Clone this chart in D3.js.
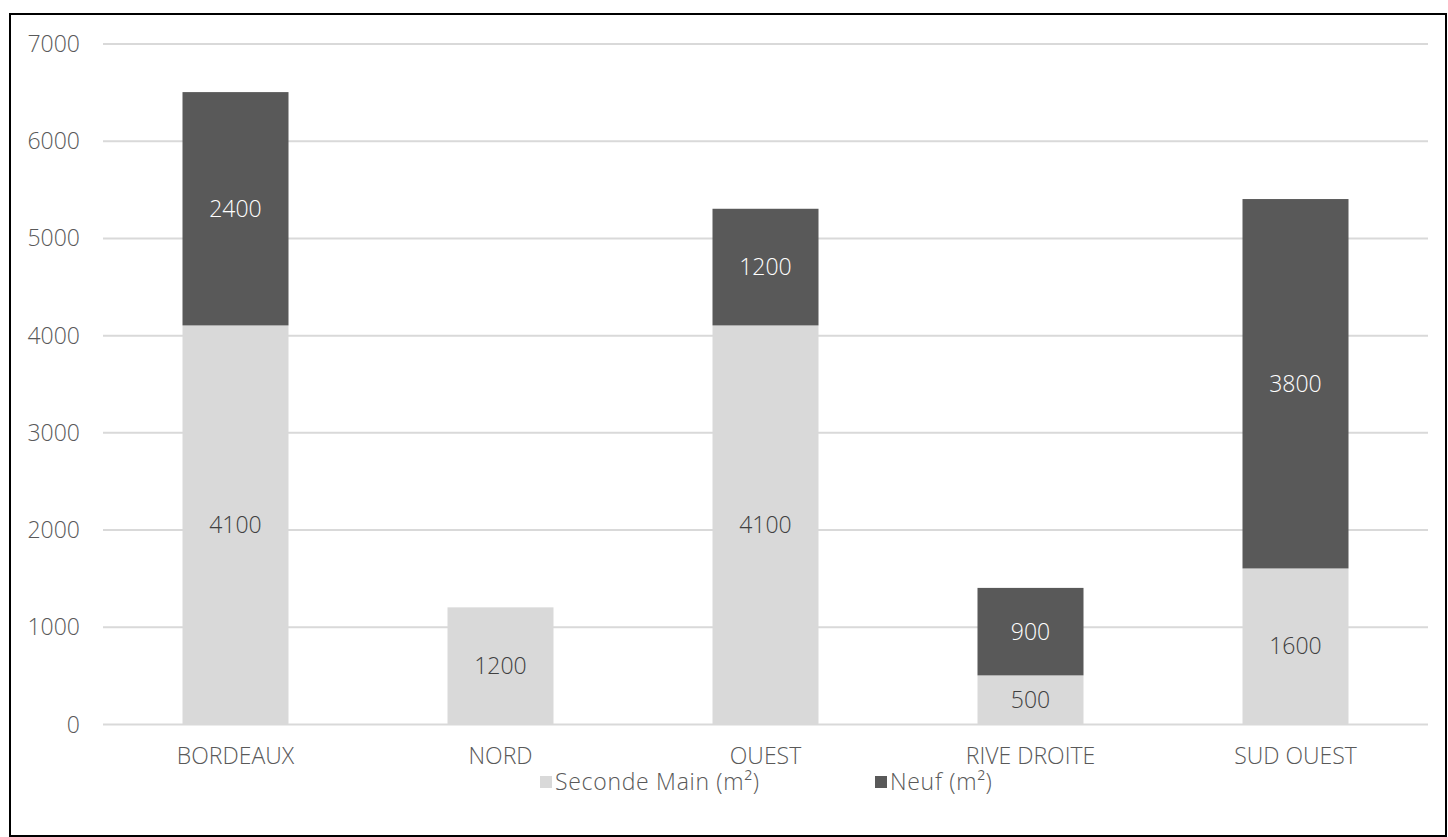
<!DOCTYPE html>
<html>
<head>
<meta charset="utf-8">
<script src="https://cdn.jsdelivr.net/npm/d3@7"></script>
<style>
  html, body { margin: 0; padding: 0; background: #fff; }
  svg { display: block; }
  text { font-family: "Open Sans", "Noto Sans", sans-serif; font-weight: 300; }
</style>
</head>
<body>
<svg id="chart" width="1448" height="837"></svg>
<script>
// Surfaces by sector (m²)
const categories = ["BORDEAUX", "NORD", "OUEST", "RIVE DROITE", "SUD OUEST"];
const secondeMain = [4100, 1200, 4100, 500, 1600];
const neuf = [2400, 0, 1200, 900, 3800];
const seriesNames = ["Seconde Main (m²)", "Neuf (m²)"];
const seriesColors = ["#d9d9d9", "#595959"];
const labelColors = ["#404040", "#ffffff"];
const yTicks = [0, 1000, 2000, 3000, 4000, 5000, 6000, 7000];

const svg = d3.select("#chart");
const W = 1448, H = 837;

// outer frame
svg.append("rect")
  .attr("x", 10).attr("y", 14)
  .attr("width", W - 12).attr("height", H - 15)
  .attr("fill", "#fff").attr("stroke", "#000").attr("stroke-width", 2);

const plot = { left: 103, right: 1428, top: 43.5, bottom: 724 };

const x = d3.scaleBand()
  .domain(categories)
  .range([plot.left, plot.right])
  .paddingInner(0.6)
  .paddingOuter(0.3);

const y = d3.scaleLinear()
  .domain([0, 7000])
  .range([plot.bottom, plot.top]);

// gridlines
const yAxis = d3.axisLeft(y)
  .tickValues(yTicks)
  .tickSize(-(plot.right - plot.left))
  .tickPadding(23)
  .tickFormat(d3.format("d"));

const gy = svg.append("g")
  .attr("transform", `translate(${plot.left},0)`)
  .call(yAxis);
gy.select(".domain").remove();
gy.selectAll(".tick line").attr("stroke", "#d9d9d9").attr("stroke-width", 2);
gy.selectAll(".tick text")
  .attr("fill", "#595959")
  .style("font-size", "23px")
  .attr("dy", "0.35em");

// stacked data
const rows = categories.map((c, i) => ({ cat: c, s0: secondeMain[i], s1: neuf[i] }));
const stack = d3.stack().keys(["s0", "s1"]);
const stacked = stack(rows);

const layers = svg.append("g").selectAll("g")
  .data(stacked)
  .join("g")
  .attr("fill", (d, i) => seriesColors[i]);

layers.selectAll("rect")
  .data(d => d.filter(p => p[1] - p[0] > 0))
  .join("rect")
  .attr("x", d => x(d.data.cat))
  .attr("width", x.bandwidth())
  .attr("y", d => y(d[1]))
  .attr("height", d => y(d[0]) - y(d[1]));

// data labels
stacked.forEach((layer, li) => {
  svg.append("g").selectAll("text")
    .data(layer.filter(p => p[1] - p[0] > 0))
    .join("text")
    .attr("x", d => x(d.data.cat) + x.bandwidth() / 2)
    .attr("y", d => (y(d[0]) + y(d[1])) / 2)
    .attr("dy", "0.35em")
    .attr("text-anchor", "middle")
    .attr("fill", labelColors[li])
    .style("font-size", "23px")
    .text(d => d[1] - d[0]);
});

// category axis
const xAxis = d3.axisBottom(x).tickSize(0).tickPadding(0);
const gx = svg.append("g")
  .attr("transform", `translate(0,${plot.bottom})`)
  .call(xAxis);
gx.select(".domain").remove();
gx.selectAll(".tick text")
  .attr("y", 40)
  .attr("dy", 0)
  .attr("fill", "#595959")
  .style("font-size", "23px");

// legend
const legend = svg.append("g").attr("transform", "translate(0,790)");
const legendX = [540, 875];
seriesNames.forEach((name, i) => {
  const g = legend.append("g").attr("transform", `translate(${legendX[i]},0)`);
  g.append("rect")
    .attr("x", 0).attr("y", -14)
    .attr("width", 12).attr("height", 12)
    .attr("fill", seriesColors[i]);
  g.append("text")
    .attr("x", 15).attr("y", 0)
    .attr("fill", "#595959")
    .style("font-size", "23px")
    .style("letter-spacing", "0.7px")
    .text(name);
});
</script>
</body>
</html>
